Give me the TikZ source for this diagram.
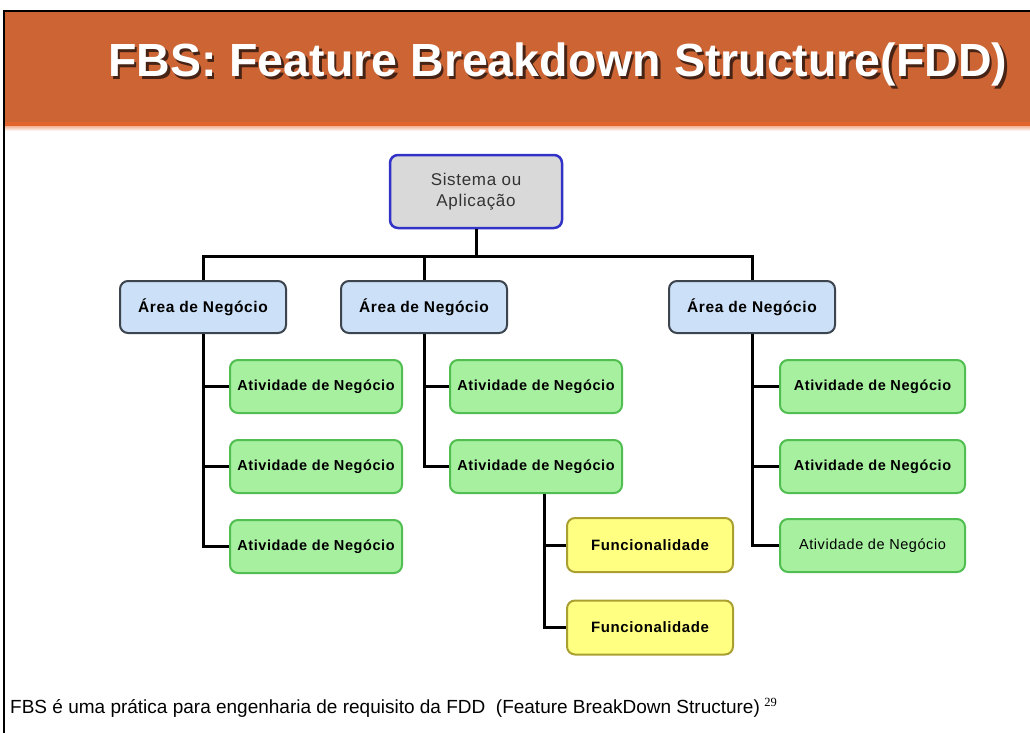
\documentclass[tikz,border=0pt]{standalone}
\usepackage{fontspec}
\setmainfont{Liberation Sans}
\newfontfamily\spaced[LetterSpace=4]{Liberation Sans}
\newfontfamily\numfont{Liberation Serif}
\definecolor{hdr}{RGB}{204,100,52}
\definecolor{hdredge}{RGB}{228,100,45}
\definecolor{rootfill}{RGB}{217,217,217}
\definecolor{rootline}{RGB}{50,50,200}
\definecolor{areafill}{RGB}{204,224,247}
\definecolor{arealine}{RGB}{60,68,78}
\definecolor{actfill}{RGB}{166,240,160}
\definecolor{actline}{RGB}{80,190,80}
\definecolor{funfill}{RGB}{255,255,130}
\definecolor{funline}{RGB}{170,160,50}
\definecolor{shadowc}{RGB}{70,35,20}
\newcommand{\titletext}{FBS: Feature Breakdown Structure(FDD)}
\begin{document}
\begin{tikzpicture}[x=1pt,y=-1pt,
  box/.style={rounded corners=8pt, inner sep=0pt, align=center, line width=2pt},
  rootbox/.style={box, draw=rootline, fill=rootfill, line width=2.5pt,
    minimum width=172pt, minimum height=73pt,
    font=\spaced\fontsize{17}{21}\selectfont, text=black!80},
  areabox/.style={box, draw=arealine, fill=areafill,
    minimum width=166pt, minimum height=52pt,
    font=\spaced\fontsize{15.5}{17}\selectfont\bfseries},
  actbox/.style={box, draw=actline, fill=actfill,
    minimum width=172pt, minimum height=53pt,
    font=\spaced\fontsize{14.5}{17}\selectfont\bfseries},
  funbox/.style={box, draw=funline, fill=funfill,
    minimum width=166pt, minimum height=54pt,
    font=\spaced\fontsize{15}{17}\selectfont\bfseries},
  wire/.style={line width=3pt, draw=black}]
\useasboundingbox (0,0) rectangle (1030,733);
\fill[white] (0,0) rectangle (1030,733);
% header band with its brighter lower edge
\fill[hdr] (4,11) rectangle (1030,122);
\fill[hdredge] (4,122) rectangle (1030,127);
\shade[top color=hdredge!40!white, bottom color=white] (4,127) rectangle (1030,131);
\draw[line width=2pt] (4,733) -- (4,11) -- (1030,11);
% title, white with a dark drop shadow
\node[anchor=base west, inner sep=0pt, text=white,
  font=\fontsize{46.5}{46.5}\selectfont\bfseries] (title) at (108,77)
  {\makebox[0pt][l]{\hspace{2.5pt}\raisebox{-2.5pt}{\color{shadowc}\titletext}}\titletext};

% hierarchy
\node[rootbox] (root) at (476,191.5) {Sistema ou\\Aplicação};
\node[areabox] (a1) at (203,307) {Área de Negócio};
\node[areabox] (a2) at (424,307) {Área de Negócio};
\node[areabox] (a3) at (752,307) {Área de Negócio};

\node[actbox] (c11) at (316,386.5) {Atividade de Negócio};
\node[actbox] (c12) at (316,466.5) {Atividade de Negócio};
\node[actbox] (c13) at (316,546.5) {Atividade de Negócio};

\node[actbox] (c21) at (536,386.5) {Atividade de Negócio};
\node[actbox] (c22) at (536,466.5) {Atividade de Negócio};

\node[funbox] (f1) at (650,545) {Funcionalidade};
\node[funbox] (f2) at (650,627.5) {Funcionalidade};

\node[actbox, minimum width=185pt] (c31) at (872.5,386.5) {Atividade de Negócio};
\node[actbox, minimum width=185pt] (c32) at (872.5,466.5) {Atividade de Negócio};
\node[actbox, minimum width=185pt, font=\spaced\fontsize{14.5}{17}\selectfont] (c33) at (872.5,545.5) {Atividade de Negócio};

% connectors
\coordinate (bus) at (476,256);
\draw[wire] (root.south) -- (bus);
\draw[wire] (a1.north) -- (a1.north |- bus) -- (a3.north |- bus) -- (a3.north);
\draw[wire] (a2.north) -- (a2.north |- bus);

\draw[wire] (a1.south) |- (c11.west);
\draw[wire] (a1.south) |- (c12.west);
\draw[wire] (a1.south) |- (c13.west);

\draw[wire] (a2.south) |- (c21.west);
\draw[wire] (a2.south) |- (c22.west);

\draw[wire] ([xshift=8pt]c22.south) |- (f1.west);
\draw[wire] ([xshift=8pt]c22.south) |- (f2.west);

\draw[wire] (a3.south) |- (c31.west);
\draw[wire] (a3.south) |- (c32.west);
\draw[wire] (a3.south) |- (c33.west);

% footer note
\node[anchor=base west, inner sep=0pt, font=\fontsize{19}{20}\selectfont] (note) at (10,713)
  {FBS é uma prática para engenharia de requisito da FDD \ (Feature BreakDown Structure)};
\node[anchor=base west, inner sep=0pt, font=\numfont\fontsize{12.5}{12}\selectfont] (pagenum)
  at ([xshift=4pt,yshift=7pt]note.base east) {29};
\end{tikzpicture}
\end{document}
